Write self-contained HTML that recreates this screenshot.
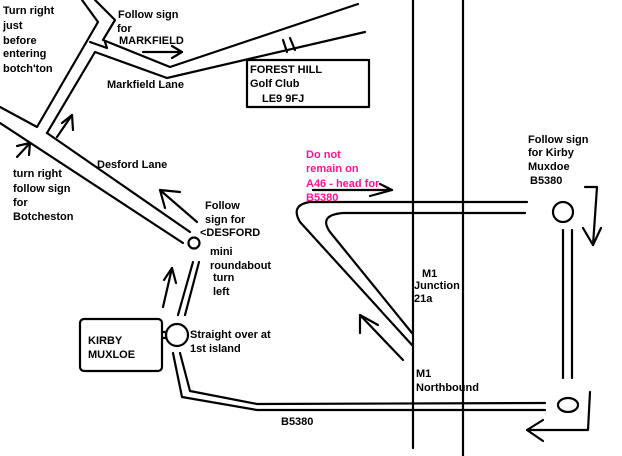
<!DOCTYPE html>
<html><head><meta charset="utf-8"><style>
body{margin:0;background:#fff;}
svg{display:block;}
text{font-family:"Liberation Sans",sans-serif;font-weight:bold;font-size:11px;fill:#000;}
.p{fill:#ff1493;}
</style></head><body>
<svg width="622" height="456" viewBox="0 0 622 456" xmlns="http://www.w3.org/2000/svg">
<g fill="none" stroke="#000" stroke-width="2.2" stroke-linecap="round" stroke-linejoin="round">
<polyline points="82,0 98,22 37,127 0,107"/>
<polyline points="95,0 115,20 103,40 170,67 358,4"/>
<polyline points="47,133 95,52 167,78 365,32"/>
<line x1="283" y1="40" x2="287" y2="52"/>
<line x1="290" y1="38" x2="295" y2="50"/>
<rect x="247" y="60" width="122" height="47"/>
<line x1="47" y1="133" x2="190" y2="232"/>
<line x1="0" y1="123" x2="183" y2="243"/>
<circle cx="194" cy="243" r="5.5"/>
<line x1="193" y1="262" x2="178" y2="315"/>
<line x1="199" y1="262" x2="185" y2="315"/>
<circle cx="177" cy="335" r="11"/>
<rect x="80" y="319" width="82" height="52" rx="4"/>
<polyline points="162,332 166,332 166,338 162,338"/>
<polyline points="173,353 182,397 257,410 545,410"/>
<polyline points="180,353 190,391 257,404 545,403"/>
<ellipse cx="568" cy="405" rx="10" ry="7"/>
<line x1="563" y1="230" x2="563" y2="378"/>
<line x1="572" y1="230" x2="572" y2="378"/>
<circle cx="563" cy="212" r="10"/>
<line x1="413" y1="0" x2="413" y2="448"/>
<line x1="463" y1="0" x2="463" y2="456"/>
<path d="M527,202 L310,202 Q290,205 300,222 L412,345"/>
<path d="M525,213 L343,213 Q318,215 330,232 L412,333"/>
<polyline points="585,187 597,187 593,245"/>
<polyline points="583,228 593,245 601,228"/>
<polyline points="590,392 588,430 527,430"/>
<polyline points="543,420 527,430 543,441"/>
<line x1="403" y1="360" x2="360" y2="315"/>
<polyline points="360,333 360,315 378,325"/>
<line x1="313" y1="190" x2="392" y2="190"/>
<polyline points="380,184 392,190 370,196"/>
<line x1="197" y1="222" x2="160" y2="190"/>
<polyline points="180,192 160,190 165,208"/>
<line x1="143" y1="52" x2="182" y2="52"/>
<polyline points="172,46 182,52 172,58"/>
<polyline points="90,42 107,48 105,42"/>
<line x1="72" y1="115" x2="57" y2="137"/>
<polyline points="62,123 72,115 73,130"/>
<line x1="30" y1="143" x2="17" y2="157"/>
<polyline points="17,146 30,143 29,155"/>
<line x1="163" y1="307" x2="172" y2="268"/>
<polyline points="164,280 172,268 176,283"/>
</g>
<text x="3" y="14">Turn right</text>
<text x="3" y="29">just</text>
<text x="3" y="44">before</text>
<text x="3" y="57">entering</text>
<text x="3" y="72">botch'ton</text>
<text x="118" y="18">Follow sign</text>
<text x="117" y="32">for</text>
<text x="119" y="44">MARKFIELD</text>
<text x="107" y="88">Markfield Lane</text>
<text x="250" y="73">FOREST HILL</text>
<text x="250" y="87">Golf Club</text>
<text x="262" y="102">LE9 9FJ</text>
<text class="p" x="306" y="158">Do not</text>
<text class="p" x="306" y="172">remain on</text>
<text class="p" x="306" y="187">A46 - head for</text>
<text class="p" x="306" y="201">B5380</text>
<text x="97" y="168">Desford Lane</text>
<text x="13" y="177">turn right</text>
<text x="13" y="192">follow sign</text>
<text x="13" y="206">for</text>
<text x="13" y="220">Botcheston</text>
<text x="205" y="209">Follow</text>
<text x="205" y="223">sign for</text>
<text x="200" y="236">&lt;DESFORD</text>
<text x="210" y="255">mini</text>
<text x="210" y="269">roundabout</text>
<text x="213" y="281">turn</text>
<text x="213" y="295">left</text>
<text x="190" y="338">Straight over at</text>
<text x="190" y="352">1st island</text>
<text x="88" y="344">KIRBY</text>
<text x="88" y="358">MUXLOE</text>
<text x="422" y="277">M1</text>
<text x="414" y="289">Junction</text>
<text x="414" y="302">21a</text>
<text x="416" y="377">M1</text>
<text x="416" y="391">Northbound</text>
<text x="281" y="425">B5380</text>
<text x="528" y="143">Follow sign</text>
<text x="528" y="156">for Kirby</text>
<text x="528" y="170">Muxdoe</text>
<text x="530" y="184">B5380</text>
</svg>
</body></html>
